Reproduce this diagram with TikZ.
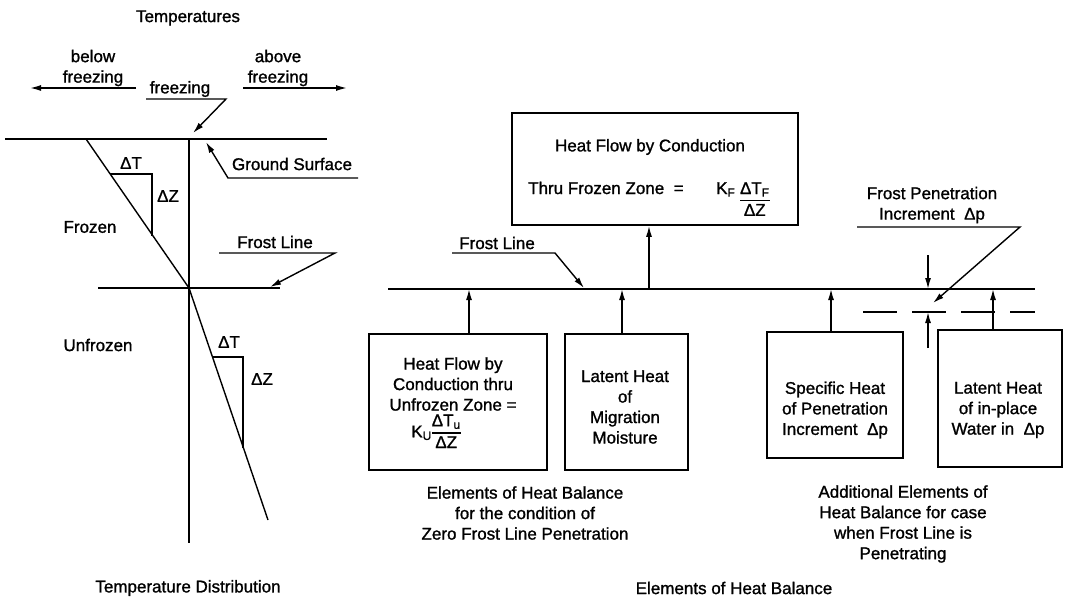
\documentclass[tikz,border=0pt]{standalone}
\usepackage{fontspec}
\setmainfont{Liberation Sans}[BoldFont={Liberation Sans},BoldFeatures={FakeBold=1.2}]
\usetikzlibrary{arrows.meta}
\setlength{\arrayrulewidth}{1.3pt}

\begin{document}
\begin{tikzpicture}[x=1pt,y=-1pt,
    txt/.style={font=\fontsize{17}{20.5}\selectfont\bfseries,align=center,inner sep=0pt},
    elem/.style={draw,line width=1.8pt,inner sep=0pt},
    thick line/.style={line width=1.8pt},
    thin line/.style={line width=1.4pt},
    arrow/.style={-{Latex[length=11pt,width=6pt]},line width=1.4pt},
]
\useasboundingbox (0,0) rectangle (1071,599);

% Temperature distribution (left)
\node[txt] (temps) at (188,18) {Temperatures};
\node[txt] (below) at (93,68) {below\\freezing};
\node[txt] (above) at (278,68) {above\\freezing};
\node[txt] (frz) at (180,89) {freezing};
\coordinate (bl0) at (136,88);
\coordinate (bl1) at (30,88);
\coordinate (ab0) at (243,88);
\coordinate (ab1) at (347,88);
\draw[arrow] (bl0) -- (bl1);
\draw[arrow] (ab0) -- (ab1);
\coordinate (fzu) at (146,99);
\coordinate (fzk) at (226,99);
\coordinate (fzt) at (193,133);
\draw[arrow] (fzu) -- (fzk) -- (fzt);

\coordinate (gsl) at (5,139);
\coordinate (gsr) at (327,139);
\coordinate (ax0) at (189,139);
\coordinate (ax1) at (189,543);
\coordinate (fp) at (189,288);
\draw[thick line] (gsl) -- (gsr);
\draw[line width=2.2pt] (ax0) -- (ax1);

% temperature profile with slope triangles
\coordinate (tp0) at (86,139);
\coordinate (tp1) at (268,520);
\draw[thin line] (tp0) -- (fp) -- (tp1);
\draw[thin line] (110,174) -- (152,174) -- (152,236);
\draw[thin line] (213,357) -- (243,357) -- (243,448);
\node[txt] (dt1) at (131,163) {ΔT};
\node[txt] (dz1) at (168,196) {ΔZ};
\node[txt] (dt2) at (229,342) {ΔT};
\node[txt] (dz2) at (262,379) {ΔZ};
\node[txt] (frozen) at (90,227) {Frozen};
\node[txt] (unfrozen) at (98,345) {Unfrozen};

\node[txt] (gslbl) at (292,164) {Ground Surface};
\coordinate (gsu0) at (358,178);
\coordinate (gsu1) at (228,178);
\coordinate (gst) at (206,142);
\draw[arrow] (gsu0) -- (gsu1) -- (gst);

\node[txt] (fllbl) at (275,242) {Frost Line};
\coordinate (flu0) at (219,253);
\coordinate (flu1) at (335,253);
\coordinate (flt) at (270,287);
\draw[arrow] (flu0) -- (flu1) -- (flt);
\coordinate (fl0) at (98,288);
\coordinate (fl1) at (280,288);
\draw[thick line] (fl0) -- (fl1);

\node[txt] (tdist) at (188,588) {Temperature Distribution};

% Elements of heat balance (right)
\coordinate (fll) at (388,289);
\coordinate (flr) at (1035,289);
\draw[thick line] (fll) -- (flr);

\node[elem,minimum width=286,minimum height=112] (frzbox) at (655,169) {};
\node[txt] (frzhead) at (650,147) {Heat Flow by Conduction};
\node[txt,anchor=base west] (frzeq) at (528,194) {Thru Frozen Zone \ =};
\node[txt,anchor=base west] (frzk) at (716,194)
  {K\textsubscript{F} \begin{tabular}[t]{@{}c@{}}ΔT\textsubscript{F}\\\hline ΔZ\end{tabular}};

\node[elem,minimum width=178,minimum height=136] (unfbox) at (458,402) {};
\node[txt] (unftxt) at (453,384) {Heat Flow by\\Conduction thru\\Unfrozen Zone =};
\node[txt] (unfeq) at (436,433)
  {K\textsubscript{U}\begin{tabular}{@{}c@{}}ΔT\textsubscript{u}\\\hline ΔZ\end{tabular}};

\node[elem,minimum width=123,minimum height=136] (migbox) at (626.5,402) {};
\node[txt] (migtxt) at (625,407) {Latent Heat\\of\\Migration\\Moisture};

\node[elem,minimum width=136,minimum height=126] (spcbox) at (835,395) {};
\node[txt] (spctxt) at (835,410) {Specific Heat\\of Penetration\\Increment \ Δp};

\node[elem,minimum width=124,minimum height=137] (latbox) at (1000,398.5) {};
\node[txt] (lattxt) at (998,410) {Latent Heat\\of in-place\\Water in \ Δp};

\coordinate (a1) at (469,289);
\coordinate (a2) at (622,289);
\coordinate (a3) at (649,289);
\coordinate (a4) at (831,289);
\coordinate (a5) at (993,289);
\draw[arrow] (unfbox.north -| a1) -- (a1);
\draw[arrow] (migbox.north -| a2) -- (a2);
\draw[arrow] (a3) -- (frzbox.south -| a3);
\draw[arrow] (spcbox.north -| a4) -- (a4);
\draw[arrow] (latbox.north -| a5) -- (a5);

\node[txt] (fllbl2) at (497,243) {Frost Line};
\coordinate (fl2u0) at (452,253);
\coordinate (fl2u1) at (555,253);
\coordinate (fl2t) at (584,288);
\draw[arrow] (fl2u0) -- (fl2u1) -- (fl2t);

% frost penetration increment
\coordinate (pl0) at (863,312);
\coordinate (pl1) at (1035,312);
\draw[line width=1.6pt,dash pattern=on 34pt off 15pt] (pl0) -- (pl1);
\coordinate (dp0) at (928,255);
\coordinate (dp1) at (928,289);
\coordinate (dp2) at (928,348);
\coordinate (dp3) at (928,312);
\draw[arrow] (dp0) -- (dp1);
\draw[arrow] (dp2) -- (dp3);
\node[txt] (penlbl) at (932,205) {Frost Penetration\\Increment \ Δp};
\coordinate (pu0) at (857,227);
\coordinate (pu1) at (1020,227);
\coordinate (put) at (933,303);
\draw[arrow] (pu0) -- (pu1) -- (put);

\node[txt] (cap1) at (525,513) {Elements of Heat Balance\\for the condition of\\Zero Frost Line Penetration};
\node[txt] (cap2) at (903,524) {Additional Elements of\\Heat Balance for case\\when Frost Line is\\Penetrating};
\node[txt] (cap3) at (734,588) {Elements of Heat Balance};
\end{tikzpicture}
\end{document}
